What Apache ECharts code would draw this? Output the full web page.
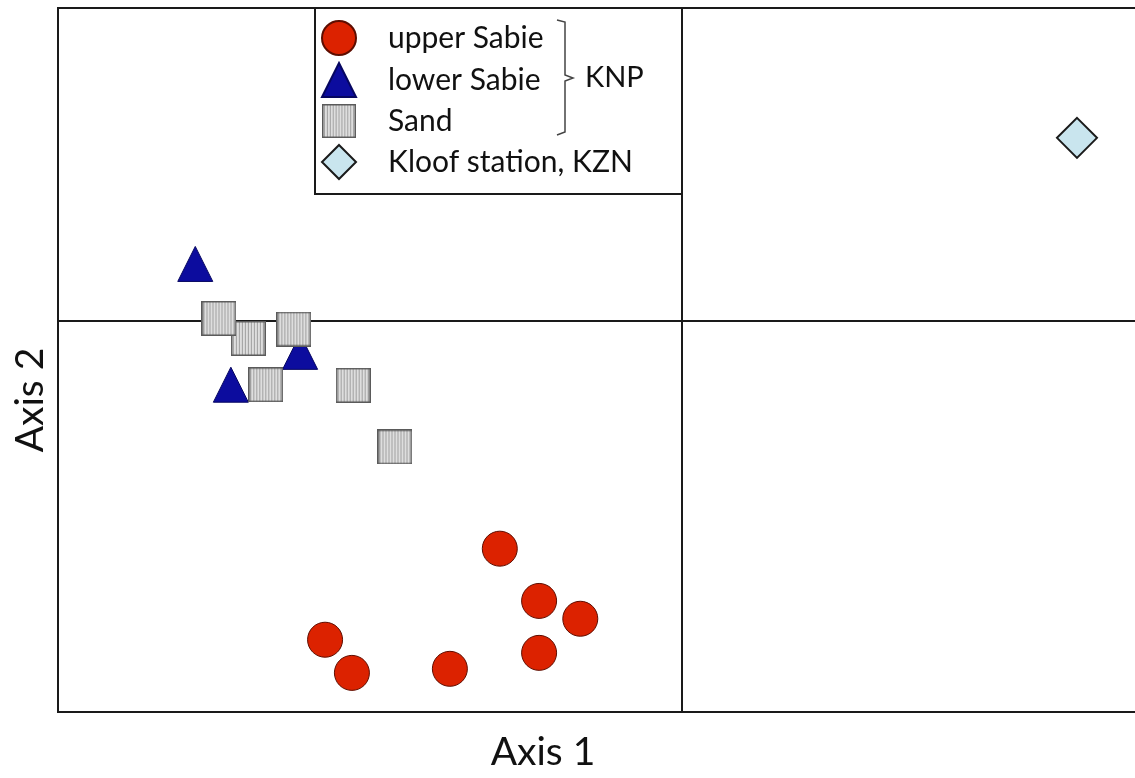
<!DOCTYPE html>
<html>
<head>
<meta charset="utf-8">
<script src="https://cdn.jsdelivr.net/npm/echarts@6/dist/echarts.min.js"></script>
<style>html,body{margin:0;padding:0;background:#fff}#c{width:1135px;height:778px}</style>
</head>
<body>
<div id="c"></div>
<script>
// Series names (legend labels)
const seriesNames = ['upper Sabie', 'lower Sabie', 'Sand', 'Kloof station, KZN'];
// Axis titles
const axisTitles = ['Axis 1', 'Axis 2'];
const groupLabel = 'KNP';

// Values: [axis1, axis2]
const upperSabie = [
  [-0.292, -0.728], [-0.229, -0.895], [-0.163, -0.952], [-0.229, -1.061],
  [-0.572, -1.019], [-0.529, -1.125], [-0.372, -1.112]
];
const lowerSabie = [
  [-0.780, 0.182], [-0.612, -0.099], [-0.723, -0.204]
];
const sand = [
  [-0.695, -0.056], [-0.742, 0.008], [-0.622, -0.026],
  [-0.667, -0.204], [-0.527, -0.206], [-0.460, -0.403]
];
const kloof = [
  [0.633, 0.585]
];

// striped grey square symbol image for the Sand series
function stripedSquare(size) {
  const c = document.createElement('canvas');
  c.width = size; c.height = size;
  const g = c.getContext('2d');
  g.fillStyle = '#dedede'; g.fillRect(0, 0, size, size);
  g.fillStyle = '#a0a0a0';
  for (let x = 2; x < size; x += 3) g.fillRect(x, 0, 1, size);
  g.strokeStyle = '#5a5a5a'; g.lineWidth = 1.5;
  g.strokeRect(0.75, 0.75, size - 1.5, size - 1.5);
  return 'image://' + c.toDataURL('image/png');
}
const sandSymbol = stripedSquare(35);

const chart = echarts.init(document.getElementById('c'), null, {renderer: 'canvas'});
const FONT = 'Lato';
const axisCommon = {
  type: 'value',
  axisLabel: {show: false},
  axisTick: {show: false},
  splitLine: {show: false},
  axisLine: {show: true, onZero: true, lineStyle: {color: '#1a1a1a', width: 2}}
};
chart.setOption({
  animation: false,
  backgroundColor: '#ffffff',
  grid: {left: 58, top: 8, bottom: 66, right: -15, outerBoundsMode: 'none',
         show: true, borderColor: '#1a1a1a', borderWidth: 2},
  xAxis: Object.assign({}, axisCommon, {min: -1, max: 0.75}),
  yAxis: Object.assign({}, axisCommon, {min: -1.25, max: 1}),
  legend: {
    orient: 'vertical', left: 321, top: 20, padding: 0, itemWidth: 34, itemHeight: 34, itemGap: 6,
    data: seriesNames, z: 10,
    textStyle: {fontFamily: FONT, fontSize: 30, color: '#111', padding: [0, 0, 0, 27]}
  },
  graphic: [
    {type: 'rect', z: 1, shape: {x: 315, y: 8, width: 367, height: 186},
     style: {fill: '#fff', stroke: '#1a1a1a', lineWidth: 2}},
    {type: 'polyline', z: 11, shape: {points: [[557, 20], [565, 22], [565, 75], [573, 78], [565, 81], [565, 132], [557, 135]]},
     style: {fill: null, stroke: '#444', lineWidth: 1.5}},
    {type: 'text', z: 11, x: 585, y: 78, style: {text: groupLabel, fontFamily: FONT, fontSize: 29, fill: '#111', verticalAlign: 'middle'}},
    {type: 'text', x: 543, y: 752, style: {text: axisTitles[0], fontFamily: FONT, fontSize: 39, fill: '#111', align: 'center', verticalAlign: 'middle'}},
    {type: 'text', x: 30, y: 400, rotation: Math.PI / 2, style: {text: axisTitles[1], fontFamily: FONT, fontSize: 39, fill: '#111', align: 'center', verticalAlign: 'middle'}}
  ],
  series: [
    {name: seriesNames[0], type: 'scatter', symbol: 'circle', symbolSize: 35, data: upperSabie,
     itemStyle: {color: '#dc2200', borderColor: '#5e0d00', borderWidth: 1, opacity: 1}},
    {name: seriesNames[1], type: 'scatter', symbol: 'triangle', symbolSize: 35, data: lowerSabie,
     itemStyle: {color: '#0c0c9e', borderColor: '#060660', borderWidth: 1, opacity: 1}},
    {name: seriesNames[2], type: 'scatter', symbol: sandSymbol, symbolSize: 35, data: sand,
     itemStyle: {color: '#d0d0d0', opacity: 1}},
    {name: seriesNames[3], type: 'scatter', symbol: 'diamond', symbolSize: 40, data: kloof,
     itemStyle: {color: '#c9e5ee', borderColor: '#1a1a1a', borderWidth: 2, opacity: 1}}
  ]
});
</script>
</body>
</html>
